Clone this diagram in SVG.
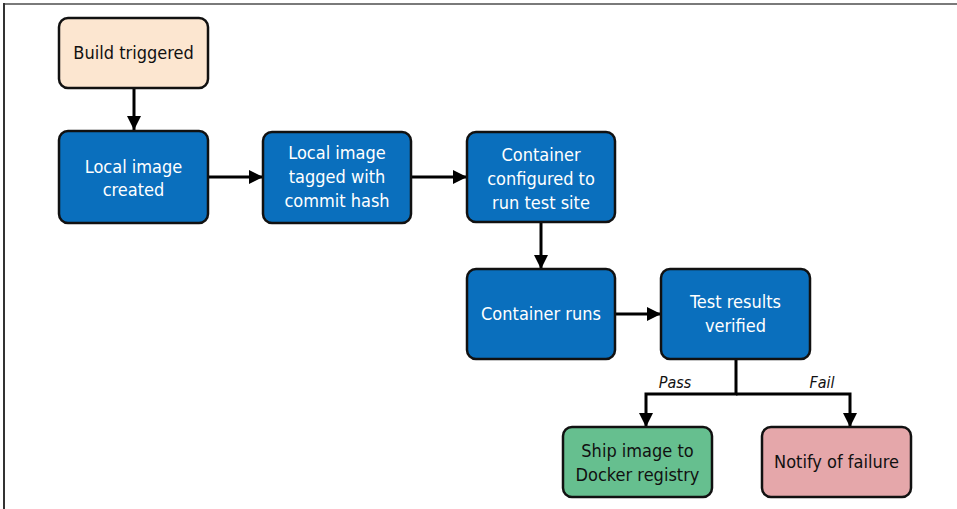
<svg xmlns="http://www.w3.org/2000/svg" width="957" height="509" viewBox="0 0 957 509">
<defs>
<style>
.box{stroke:#111;stroke-width:2.5}
.blue{fill:#0A6FBD}
.peach{fill:#FCE6D0}
.green{fill:#66BF8F}
.pink{fill:#E5A7AA}
.t{font-family:"DejaVu Sans Condensed","Liberation Sans",sans-serif;font-size:18px;text-anchor:middle}
.w{fill:#fff}
.k{fill:#111}
.lbl{font-family:"DejaVu Sans Condensed","Liberation Sans",sans-serif;font-size:16px;font-style:italic;fill:#111;text-anchor:middle}
.c{fill:none;stroke:#000;stroke-width:3}
</style>
<marker id="ah" viewBox="0 0 14 14" refX="14" refY="7" markerWidth="14" markerHeight="14" markerUnits="userSpaceOnUse" orient="auto">
<path d="M0,0 L14,7 L0,14 Z" fill="#000"/>
</marker>
</defs>
<rect x="0" y="0" width="957" height="509" fill="#fff"/>
<line x1="4" y1="4" x2="957" y2="4" stroke="#7a7a7a" stroke-width="2"/>
<line x1="4" y1="3" x2="4" y2="509" stroke="#333" stroke-width="2"/>

<g id="connectors">
<line class="c" x1="134" y1="88" x2="134" y2="130" marker-end="url(#ah)"/>
<line class="c" x1="208" y1="177" x2="263" y2="177" marker-end="url(#ah)"/>
<line class="c" x1="411" y1="177" x2="467" y2="177" marker-end="url(#ah)"/>
<line class="c" x1="541" y1="222" x2="541" y2="269" marker-end="url(#ah)"/>
<line class="c" x1="615" y1="314" x2="661" y2="314" marker-end="url(#ah)"/>
<polyline class="c" points="736,359 736,394 646,394 646,427" marker-end="url(#ah)"/>
<polyline class="c" points="736,394 850,394 850,427" marker-end="url(#ah)"/>
<text class="lbl" x="675" y="388">Pass</text>
<text class="lbl" x="822" y="388">Fail</text>
</g>

<g id="build-triggered">
<rect class="box peach" x="59" y="18" width="149" height="70" rx="9"/>
<text class="t k" x="133.5" y="59">Build triggered</text>
</g>
<g id="local-image-created">
<rect class="box blue" x="59" y="131" width="149" height="92" rx="9"/>
<text class="t w" x="133.5" y="173">Local image</text>
<text class="t w" x="133.5" y="196">created</text>
</g>
<g id="local-image-tagged">
<rect class="box blue" x="263" y="132" width="148" height="91" rx="9"/>
<text class="t w" x="337" y="159">Local image</text>
<text class="t w" x="337" y="183">tagged with</text>
<text class="t w" x="337" y="207">commit hash</text>
</g>
<g id="container-configured">
<rect class="box blue" x="467" y="132" width="148" height="90" rx="9"/>
<text class="t w" x="541" y="161">Container</text>
<text class="t w" x="541" y="185">configured to</text>
<text class="t w" x="541" y="209">run test site</text>
</g>
<g id="container-runs">
<rect class="box blue" x="467" y="269" width="148" height="90" rx="9"/>
<text class="t w" x="541" y="320">Container runs</text>
</g>
<g id="test-results-verified">
<rect class="box blue" x="661" y="269" width="149" height="90" rx="9"/>
<text class="t w" x="735.5" y="308">Test results</text>
<text class="t w" x="735.5" y="332">verified</text>
</g>
<g id="ship-image">
<rect class="box green" x="563" y="427" width="149" height="70" rx="9"/>
<text class="t k" x="637.5" y="457">Ship image to</text>
<text class="t k" x="637.5" y="481">Docker registry</text>
</g>
<g id="notify-failure">
<rect class="box pink" x="762" y="427" width="149" height="70" rx="9"/>
<text class="t k" x="836.5" y="468">Notify of failure</text>
</g>
</svg>
